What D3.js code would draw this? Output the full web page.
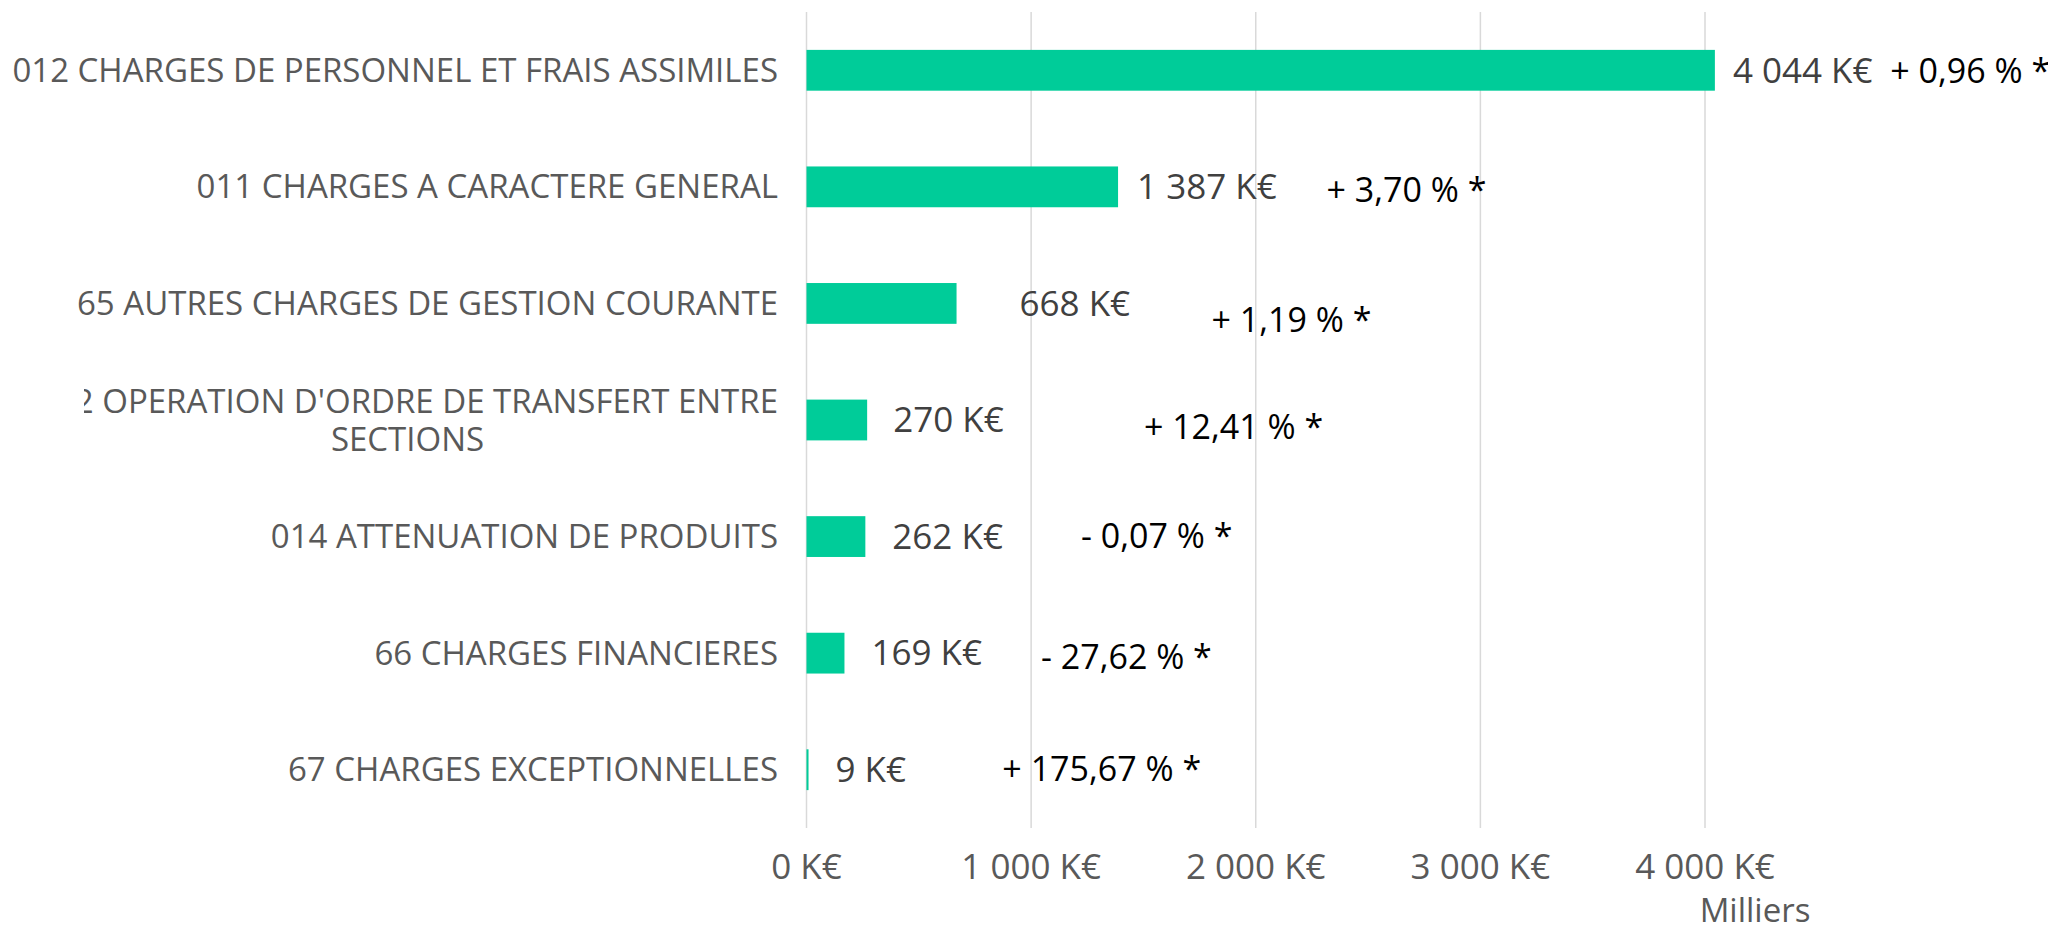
<!DOCTYPE html>
<html lang="fr">
  <head>
    <meta charset="UTF-8" />
    <title>Charges de fonctionnement</title>
    <style>
      body {
        margin: 0;
        background: #fff;
      }
      svg {
        display: block;
        font-family: "Open Sans", "Noto Sans", sans-serif;
      }
    </style>
  </head>

  <body>
    <script src="https://cdn.jsdelivr.net/npm/d3@7"></script>
    <script>
      // Données
      const categories = [
        "012 CHARGES DE PERSONNEL ET FRAIS ASSIMILES",
        "011 CHARGES A CARACTERE GENERAL",
        "65 AUTRES CHARGES DE GESTION COURANTE",
        "042 OPERATION D'ORDRE DE TRANSFERT ENTRE SECTIONS",
        "014 ATTENUATION DE PRODUITS",
        "66 CHARGES FINANCIERES",
        "67 CHARGES EXCEPTIONNELLES",
      ];
      const montants = [4044, 1387, 668, 270, 262, 169, 9];
      const evolutions = [0.96, 3.7, 1.19, 12.41, -0.07, -27.62, 175.67];
      const ticks = [0, 1000, 2000, 3000, 4000];

      // Placement des étiquettes (mise en page, comme dans l'original)
      const decalageMontant = [18, 19, 63, 26, 27, 27, 27];
      const positionEvolution = [4825, 2315, 1803, 1502, 1222, 1044, 872];
      const decalageEvolution = [1, 3, 17, 7, 0, 4, -1];

      const largeur = 2048;
      const hauteur = 926;

      const svg = d3
        .select("body")
        .append("svg")
        .attr("width", largeur)
        .attr("height", hauteur);

      const x = d3.scaleLinear().domain([0, 4000]).range([806.5, 1705]);
      const y = d3
        .scaleBand()
        .domain(categories)
        .range([12, 828])
        .paddingInner(0.65)
        .paddingOuter(0.325);

      const fmt = d3.formatLocale({
        decimal: ",",
        thousands: "\u00a0",
        grouping: [3],
        currency: ["", " K€"],
      });
      const fmtMontant = (v) => fmt.format(",")(v) + " K€";
      const fmtEvolution = (v) =>
        (v < 0 ? "- " : "+ ") + fmt.format(",.2f")(Math.abs(v)) + " % *";

      // Grille verticale
      svg
        .append("g")
        .selectAll("line")
        .data(ticks)
        .join("line")
        .attr("x1", (d) => x(d))
        .attr("x2", (d) => x(d))
        .attr("y1", 12)
        .attr("y2", 828)
        .attr("stroke", "#d9d9d9")
        .attr("stroke-width", 1.5);

      // Étiquettes de l'axe
      svg
        .append("g")
        .selectAll("text")
        .data(ticks)
        .join("text")
        .attr("x", (d) => x(d))
        .attr("y", 867)
        .attr("dy", "0.35em")
        .attr("text-anchor", "middle")
        .attr("fill", "#595959")
        .style("font-size", "35px")
        .text((d) => fmtMontant(d));

      svg
        .append("text")
        .attr("x", 1755)
        .attr("y", 922)
        .attr("text-anchor", "middle")
        .attr("fill", "#595959")
        .style("font-size", "33px")
        .text("Milliers");

      // Barres
      svg
        .append("g")
        .selectAll("rect")
        .data(montants)
        .join("rect")
        .attr("x", x(0))
        .attr("y", (d, i) => y(categories[i]))
        .attr("width", (d) => x(d) - x(0))
        .attr("height", y.bandwidth())
        .attr("fill", "#00cc99");

      // Montants
      svg
        .append("g")
        .selectAll("text")
        .data(montants)
        .join("text")
        .attr("x", (d, i) => x(d) + decalageMontant[i])
        .attr("y", (d, i) => y(categories[i]) + y.bandwidth() / 2)
        .attr("dy", "0.35em")
        .attr("fill", "#404040")
        .style("font-size", "35px")
        .text((d) => fmtMontant(d));

      // Évolutions
      svg
        .append("g")
        .selectAll("text")
        .data(evolutions)
        .join("text")
        .attr("x", (d, i) => x(positionEvolution[i]))
        .attr(
          "y",
          (d, i) =>
            y(categories[i]) + y.bandwidth() / 2 + decalageEvolution[i]
        )
        .attr("dy", "0.35em")
        .attr("fill", "#000")
        .style("font-size", "34px")
        .text((d) => fmtEvolution(d));

      // Libellés des catégories
      const bordDroit = 778;
      svg
        .append("clipPath")
        .attr("id", "coupe")
        .append("rect")
        .attr("x", 84)
        .attr("y", 0)
        .attr("width", 720)
        .attr("height", hauteur);

      const libelles = svg.append("g");
      categories.forEach((c, i) => {
        const cy = y(c) + y.bandwidth() / 2;
        const t = libelles
          .append("text")
          .attr("x", bordDroit)
          .attr("y", cy)
          .attr("dy", "0.35em")
          .attr("text-anchor", "end")
          .attr("fill", "#595959")
          .style("font-size", "33px")
          .text(c);

        // Le libellé trop long passe sur deux lignes, centré et coupé à gauche
        if (c.length > 45) {
          const mots = c.split(" ");
          const ligne1 = mots.slice(0, -1).join(" ");
          const ligne2 = mots[mots.length - 1];
          t.text(ligne1);
          const w = t.node().getComputedTextLength();
          const cx = bordDroit - w / 2;
          t.text(null)
            .attr("text-anchor", "middle")
            .attr("x", cx)
            .attr("y", cy - 19)
            .attr("clip-path", "url(#coupe)");
          t.append("tspan").attr("x", cx).text(ligne1);
          t.append("tspan").attr("x", cx).attr("dy", 38).text(ligne2);
        }
      });
    </script>
  </body>
</html>
